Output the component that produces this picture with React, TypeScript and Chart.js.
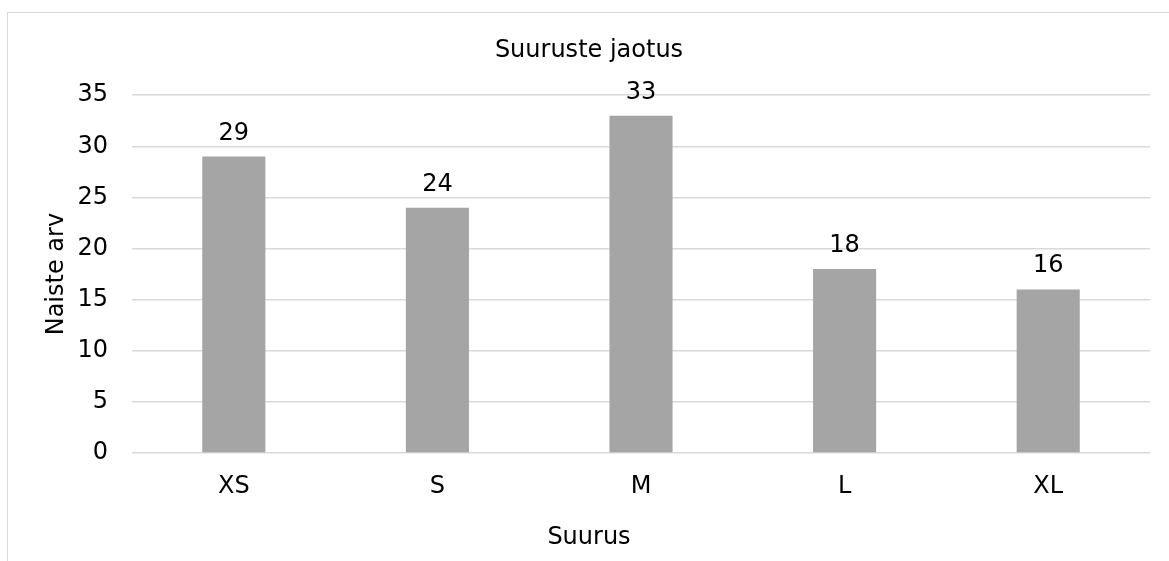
import React, { useEffect, useRef } from "react";
import { Chart, registerables } from "chart.js";

Chart.register(...registerables);

const categories = ["XS", "S", "M", "L", "XL"];
const counts = [29, 24, 33, 18, 16];
const chartTitle = "Suuruste jaotus";
const xTitle = "Suurus";
const yTitle = "Naiste arv";

const FONT = "'DejaVu Sans', Verdana, sans-serif";
const FS = 24;

const valueLabels = {
  id: "valueLabels",
  afterDatasetsDraw(chart: any) {
    const ctx = chart.ctx;
    const meta = chart.getDatasetMeta(0);
    ctx.save();
    ctx.font = `${FS}px ${FONT}`;
    ctx.fillStyle = "#000000";
    ctx.textAlign = "center";
    ctx.textBaseline = "alphabetic";
    meta.data.forEach((bar: any, i: number) => {
      ctx.fillText(String(chart.data.datasets[0].data[i]), bar.x, bar.y - 17);
    });
    ctx.restore();
  },
};

export default function App() {
  const ref = useRef<HTMLCanvasElement | null>(null);
  useEffect(() => {
    if (!ref.current) return;
    const chart = new Chart(ref.current, {
      type: "bar",
      data: {
        labels: categories,
        datasets: [
          {
            data: counts,
            backgroundColor: "#a5a5a5",
            barPercentage: 0.31,
            categoryPercentage: 1,
          },
        ],
      },
      plugins: [valueLabels],
      options: {
        animation: false,
        responsive: false,
        maintainAspectRatio: false,
        layout: { padding: { left: 20, right: 19, top: 0, bottom: 0 } },
        plugins: {
          legend: { display: false },
          tooltip: { enabled: false },
          title: {
            display: true,
            text: chartTitle,
            color: "#000000",
            font: { family: FONT, size: FS, weight: "normal" },
            padding: { top: 24, bottom: 30.4 },
          },
          subtitle: {
            display: true,
            text: xTitle,
            position: "bottom",
            color: "#000000",
            font: { family: FONT, size: FS, weight: "normal" },
            padding: { top: 3.5, bottom: 8.9 },
          },
        },
        scales: {
          x: {
            grid: { display: false, drawTicks: false },
            border: { display: false },
            ticks: {
              color: "#000000",
              font: { family: FONT, size: FS },
              padding: 19,
            },
          },
          y: {
            min: 0,
            max: 35,
            afterFit(scale: any) {
              scale.width = 104;
            },
            grid: { color: "#d9d9d9", lineWidth: 1.5, drawTicks: false },
            border: { display: false },
            ticks: {
              stepSize: 5,
              color: "#000000",
              font: { family: FONT, size: FS },
              padding: 24,
            },
            title: {
              display: true,
              text: yTitle,
              color: "#000000",
              font: { family: FONT, size: FS },
              padding: { top: 14, bottom: 0 },
            },
          },
        },
      },
    });
    return () => chart.destroy();
  }, []);

  return (
    <div
      style={{
        position: "fixed",
        left: 0,
        top: 0,
        width: 1169,
        height: 561,
        overflow: "hidden",
        background: "#ffffff",
      }}
    >
      <div
        style={{
          position: "absolute",
          left: 7,
          top: 12,
          width: 1300,
          height: 700,
          border: "1.5px solid #d9d9d9",
          boxSizing: "border-box",
        }}
      />
      <canvas
        ref={ref}
        width={1161}
        height={549}
        style={{ position: "absolute", left: 8, top: 12, width: 1161, height: 549 }}
      />
    </div>
  );
}
